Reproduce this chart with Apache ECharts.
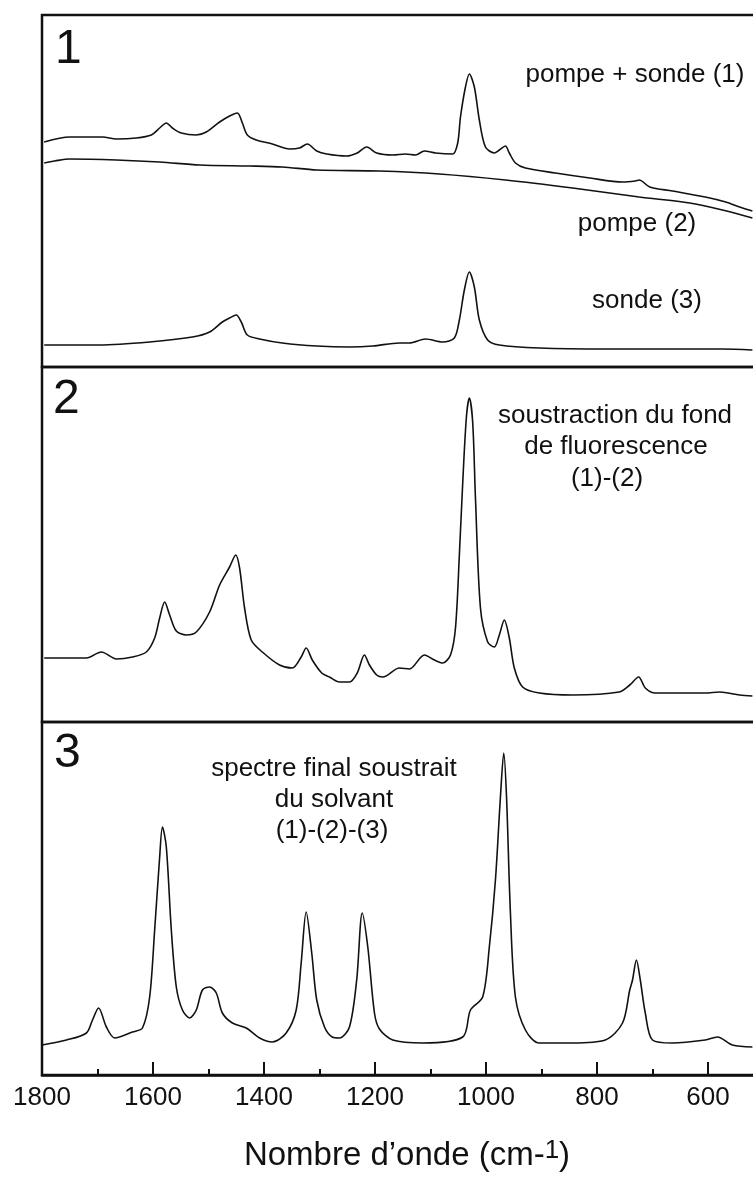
<!DOCTYPE html>
<html>
<head>
<meta charset="utf-8">
<script src="https://cdn.jsdelivr.net/npm/echarts@6/dist/echarts.min.js"></script>
<style>
html,body{margin:0;padding:0;background:#fff;}
#chart{width:753px;height:1180px;}
</style>
</head>
<body>
<div id="chart"></div>
<script>
// x tick labels (cm-1)
const tickLabels = [1800, 1600, 1400, 1200, 1000, 800, 600];

// Panel 1 : pompe + sonde (1)  [wavenumber, intensity a.u.]
const pompeSonde = [
 [1796,225],[1750,230],[1691,230],[1666,228],[1630,229],[1603,232],[1588,239],[1576,244],
 [1565,239],[1549,234],[1522,232],[1504,235],[1480,245],[1462,251],[1448,254],[1439,244],
 [1430,232],[1414,227],[1385,223],[1354,218],[1336,219],[1322,223],[1305,216],[1287,213],
 [1251,211],[1232,214],[1215,220],[1197,214],[1168,212],[1145,213],[1127,212],[1111,216],
 [1091,214],[1060,213],[1051,224],[1046,250],[1037,280],[1030,293],[1021,280],[1012,247],
 [1001,220],[985,214],[976,217],[965,221],[958,214],[947,204],[929,199],[875,194],
 [813,189],[754,185],[731,186],[724,187],[705,180],[664,176],[605,170],[568,165],[543,160],[520,156]
];
// Panel 1 : pompe (2)
const pompe = [
 [1796,204],[1777,206],[1750,208],[1666,207],[1588,205],[1516,202],[1426,201],[1367,200],
 [1305,197],[1192,196],[1084,193],[965,187],[844,179],[724,170],[633,164],[574,157],[520,149]
];
// Panel 1 : sonde (3)
const sonde = [
 [1796,22],[1696,22],[1606,25],[1529,30],[1498,35],[1475,45],[1462,49],[1450,52],[1441,45],
 [1430,32],[1408,28],[1367,24],[1305,21],[1246,20],[1204,21],[1156,24],[1138,24],[1109,28],
 [1078,25],[1057,29],[1048,47],[1039,77],[1030,95],[1021,80],[1012,47],[997,27],[976,22],
 [904,19],[785,18],[574,18],[520,17]
];
// Panel 2 : (1)-(2)
const soustractionFond = [
 [1796,64],[1720,64],[1693,70],[1666,63],[1637,65],[1612,70],[1597,84],[1588,104],[1579,120],
 [1570,107],[1558,91],[1540,87],[1522,90],[1498,110],[1480,137],[1462,155],[1451,167],[1444,154],
 [1435,114],[1423,82],[1403,70],[1372,57],[1349,54],[1333,65],[1324,74],[1313,62],[1296,49],
 [1282,45],[1264,40],[1246,40],[1232,49],[1219,67],[1210,57],[1197,47],[1186,45],[1156,54],
 [1138,53],[1111,67],[1093,62],[1078,59],[1064,67],[1055,94],[1048,167],[1041,250],[1035,307],
 [1030,324],[1024,300],[1019,224],[1010,114],[997,80],[985,75],[976,87],[967,102],[958,84],
 [949,54],[934,35],[904,29],[844,27],[760,30],[741,37],[725,45],[713,34],[695,29],[605,29],
 [579,30],[543,27],[520,26]
];
// Panel 3 : (1)-(2)-(3)
const spectreFinal = [
 [1800,30],[1756,35],[1720,42],[1709,55],[1698,67],[1684,48],[1669,37],[1637,43],[1619,47],
 [1606,78],[1597,145],[1588,218],[1583,248],[1576,228],[1567,145],[1558,88],[1547,65],[1534,57],
 [1522,65],[1511,85],[1498,88],[1486,82],[1475,62],[1457,52],[1432,47],[1408,37],[1385,33],
 [1360,42],[1342,65],[1333,112],[1324,163],[1314,122],[1305,75],[1291,48],[1277,38],[1264,37],
 [1246,48],[1233,95],[1223,162],[1213,128],[1201,62],[1192,46],[1168,35],[1114,32],[1042,38],
 [1028,65],[1006,78],[994,128],[983,195],[974,278],[968,322],[963,278],[956,162],[947,78],
 [929,45],[904,32],[844,32],[785,35],[754,52],[741,85],[736,95],[729,115],[722,95],[713,62],
 [700,35],[664,32],[605,35],[583,38],[556,30],[520,28]
];

const INK = '#111';
const FONT = '"Liberation Sans", Arial, sans-serif';
const chart = echarts.init(document.getElementById('chart'), null, {renderer: 'canvas'});

const panels = [
  {top: 15, height: 352, ymax: 352},
  {top: 367, height: 355, ymax: 355},
  {top: 722, height: 353, ymax: 353}
];

const grids = panels.map(p => ({
  left: 42, width: 777, top: p.top, height: p.height,
  outerBoundsMode: 'none', containLabel: false,
  show: true, borderColor: INK, borderWidth: 2.5, backgroundColor: 'transparent'
}));

const xAxes = panels.map((p, i) => ({
  type: 'value', gridIndex: i, min: 400, max: 1800, interval: 200, inverse: true,
  show: i === 2,
  axisLine: {show: true, lineStyle: {color: INK, width: 2.5}},
  axisTick: {show: true, inside: true, length: 13, lineStyle: {color: INK, width: 2}},
  minorTick: {show: true, splitNumber: 2, length: 6, lineStyle: {color: INK, width: 2}},
  splitLine: {show: false},
  axisLabel: {
    show: true, margin: 10, fontSize: 26, color: INK, fontFamily: FONT,
    formatter: v => (tickLabels.indexOf(v) >= 0 ? String(v) : '')
  }
}));

const yAxes = panels.map((p, i) => ({
  type: 'value', gridIndex: i, min: 0, max: p.ymax, show: false
}));

function line(data, i) {
  return {
    type: 'line', xAxisIndex: i, yAxisIndex: i, data: data,
    showSymbol: false, smooth: 0.3, clip: true,
    lineStyle: {color: INK, width: 1.6}
  };
}

function txt(x, y, s, size, extra) {
  return Object.assign({
    type: 'text', x: x, y: y,
    style: {text: s, fontSize: size, fontFamily: FONT, fill: INK, align: 'center', verticalAlign: 'middle'}
  }, extra || {});
}

chart.setOption({
  animation: false,
  backgroundColor: '#fff',
  grid: grids,
  xAxis: xAxes,
  yAxis: yAxes,
  series: [
    line(pompeSonde, 0), line(pompe, 0), line(sonde, 0),
    line(soustractionFond, 1),
    line(spectreFinal, 2)
  ],
  graphic: [
    {type: 'text', x: 55, y: 50, style: {text: '1', fontSize: 48, fontFamily: FONT, fill: INK, align: 'left', verticalAlign: 'middle'}},
    {type: 'text', x: 53, y: 400, style: {text: '2', fontSize: 48, fontFamily: FONT, fill: INK, align: 'left', verticalAlign: 'middle'}},
    {type: 'text', x: 54, y: 754, style: {text: '3', fontSize: 48, fontFamily: FONT, fill: INK, align: 'left', verticalAlign: 'middle'}},
    txt(635, 75, 'pompe + sonde (1)', 26),
    txt(637, 224, 'pompe (2)', 26),
    txt(647, 301, 'sonde (3)', 26),
    txt(615, 416, 'soustraction du fond', 26),
    txt(616, 447, 'de fluorescence', 26),
    txt(607, 479, '(1)-(2)', 26),
    txt(334, 769, 'spectre final soustrait', 26),
    txt(334, 800, 'du solvant', 26),
    txt(332, 831, '(1)-(2)-(3)', 26),
    {type: 'text', x: 407, y: 1156, style: {
      text: '{a|Nombre d\u2019onde (cm-}{b|1}{a|)}', fontFamily: FONT, fill: INK,
      align: 'center', verticalAlign: 'middle',
      rich: {a: {fontSize: 33, fontFamily: FONT, fill: INK}, b: {fontSize: 26, fontFamily: FONT, fill: INK, padding: [0, 0, 10, 0]}}
    }}
  ]
});
</script>
</body>
</html>
